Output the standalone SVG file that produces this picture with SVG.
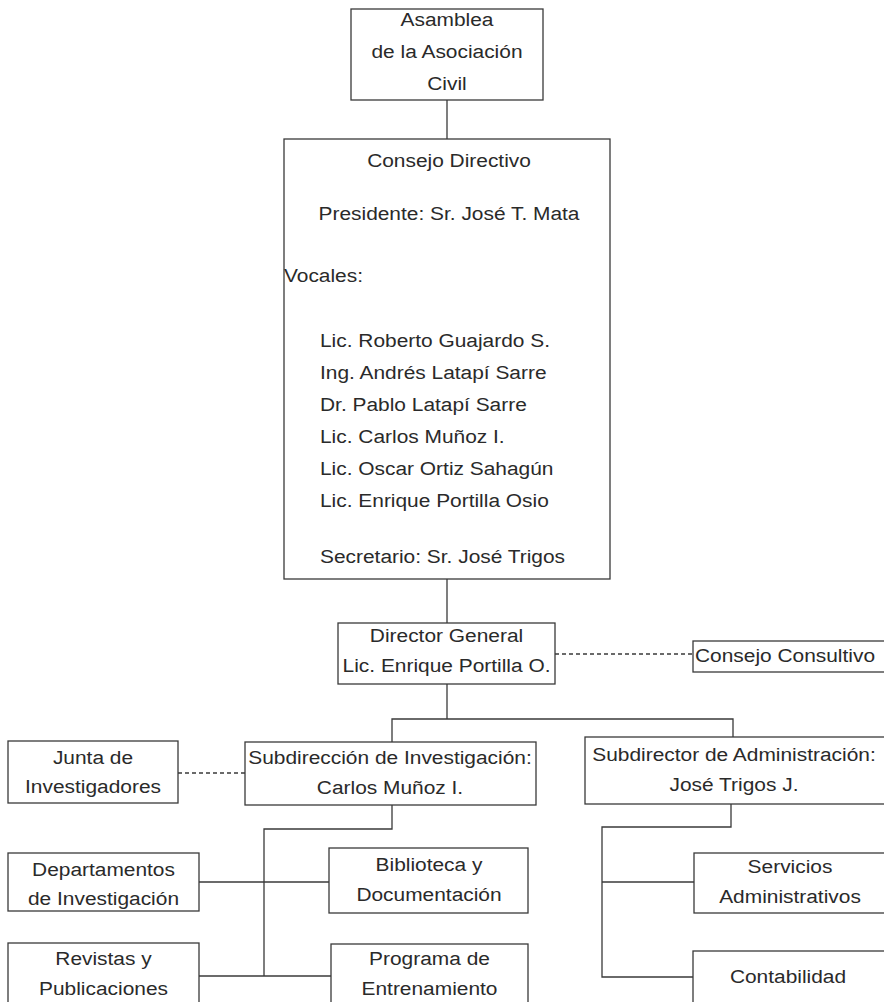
<svg xmlns="http://www.w3.org/2000/svg" width="884" height="1002" viewBox="0 0 884 1002">
<style>
rect.b{fill:#fff;stroke:#3a3a3a;stroke-width:1.3}
text{font-family:"Liberation Sans",Arial,sans-serif;font-size:19px;fill:#2a2a2a}
text.c{text-anchor:middle}
#connectors line,#connectors polyline{stroke:#3a3a3a;stroke-width:1.3;fill:none}
#connectors .d{stroke-dasharray:4 3}
</style>
<rect width="884" height="1002" fill="#fff"/>
<g id="connectors">
<line x1="447" y1="100" x2="447" y2="139"/>
<line x1="447" y1="579" x2="447" y2="623"/>
<line class="d" x1="555" y1="654" x2="693" y2="654"/>
<polyline points="447,684 447,719"/>
<polyline points="392,742 392,719 733,719 733,737"/>
<line class="d" x1="178" y1="773" x2="245" y2="773"/>
<polyline points="392,805 392,829 264,829 264,976"/>
<line x1="199" y1="882" x2="329" y2="882"/>
<line x1="199" y1="976" x2="331" y2="976"/>
<polyline points="731,804 731,827 602,827 602,977 693,977"/>
<line x1="602" y1="882" x2="694" y2="882"/>
</g>
<g id="asamblea">
<rect class="b" x="351" y="9" width="192" height="91"/>
<text class="c" transform="translate(447 26) scale(1.1 1)">Asamblea</text>
<text class="c" transform="translate(447 58) scale(1.1 1)">de la Asociación</text>
<text class="c" transform="translate(447 90) scale(1.1 1)">Civil</text>
</g>
<g id="consejo-directivo">
<rect class="b" x="284" y="139" width="326" height="440"/>
<text class="c" transform="translate(449 167) scale(1.1 1)">Consejo Directivo</text>
<text class="c" transform="translate(449 220) scale(1.1 1)">Presidente: Sr. José T. Mata</text>
<text transform="translate(284 282) scale(1.1 1)">Vocales:</text>
<text transform="translate(320 347) scale(1.1 1)">Lic. Roberto Guajardo S.</text>
<text transform="translate(320 379) scale(1.1 1)">Ing. Andrés Latapí Sarre</text>
<text transform="translate(320 411) scale(1.1 1)">Dr. Pablo Latapí Sarre</text>
<text transform="translate(320 443) scale(1.1 1)">Lic. Carlos Muñoz I.</text>
<text transform="translate(320 475) scale(1.1 1)">Lic. Oscar Ortiz Sahagún</text>
<text transform="translate(320 507) scale(1.1 1)">Lic. Enrique Portilla Osio</text>
<text transform="translate(320 563) scale(1.1 1)">Secretario: Sr. José Trigos</text>
</g>
<g id="director-general">
<rect class="b" x="338" y="623" width="217" height="61"/>
<text class="c" transform="translate(446.5 642) scale(1.1 1)">Director General</text>
<text class="c" transform="translate(446.5 672) scale(1.1 1)">Lic. Enrique Portilla O.</text>
</g>
<g id="consejo-consultivo">
<rect class="b" x="693" y="641" width="193" height="31"/>
<text transform="translate(695 662) scale(1.1 1)">Consejo Consultivo</text>
</g>
<g id="junta">
<rect class="b" x="8" y="741" width="170" height="62"/>
<text class="c" transform="translate(93 764) scale(1.1 1)">Junta de</text>
<text class="c" transform="translate(93 793) scale(1.1 1)">Investigadores</text>
</g>
<g id="subdireccion-investigacion">
<rect class="b" x="245" y="742" width="291" height="63"/>
<text class="c" transform="translate(390 764) scale(1.1 1)">Subdirección de Investigación:</text>
<text class="c" transform="translate(390 794) scale(1.1 1)">Carlos Muñoz I.</text>
</g>
<g id="subdirector-administracion">
<rect class="b" x="585" y="737" width="301" height="67"/>
<text class="c" transform="translate(734 761) scale(1.1 1)">Subdirector de Administración:</text>
<text class="c" transform="translate(734 791) scale(1.1 1)">José Trigos J.</text>
</g>
<g id="departamentos">
<rect class="b" x="8" y="853" width="191" height="58"/>
<text class="c" transform="translate(103.5 876) scale(1.1 1)">Departamentos</text>
<text class="c" transform="translate(103.5 905) scale(1.1 1)">de Investigación</text>
</g>
<g id="biblioteca">
<rect class="b" x="329" y="848" width="199" height="65"/>
<text class="c" transform="translate(429 871) scale(1.1 1)">Biblioteca y</text>
<text class="c" transform="translate(429 901) scale(1.1 1)">Documentación</text>
</g>
<g id="revistas">
<rect class="b" x="8" y="943" width="191" height="70"/>
<text class="c" transform="translate(103.5 965) scale(1.1 1)">Revistas y</text>
<text class="c" transform="translate(103.5 995) scale(1.1 1)">Publicaciones</text>
</g>
<g id="programa">
<rect class="b" x="331" y="944" width="197" height="70"/>
<text class="c" transform="translate(429.5 965) scale(1.1 1)">Programa de</text>
<text class="c" transform="translate(429.5 995) scale(1.1 1)">Entrenamiento</text>
</g>
<g id="servicios">
<rect class="b" x="694" y="853" width="192" height="60"/>
<text class="c" transform="translate(790 873) scale(1.1 1)">Servicios</text>
<text class="c" transform="translate(790 903) scale(1.1 1)">Administrativos</text>
</g>
<g id="contabilidad">
<rect class="b" x="693" y="951" width="193" height="60"/>
<text class="c" transform="translate(788 983) scale(1.1 1)">Contabilidad</text>
</g>
</svg>
